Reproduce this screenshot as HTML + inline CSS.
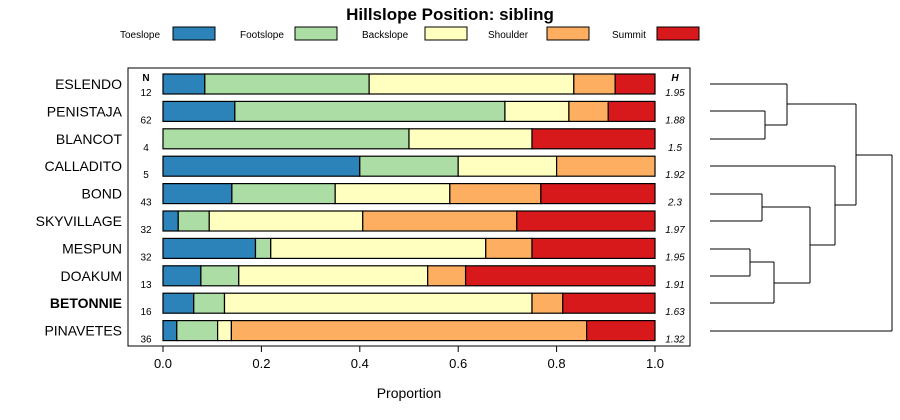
<!DOCTYPE html>
<html><head><meta charset="utf-8"><style>
body{margin:0;background:#fff;font-family:"Liberation Sans",sans-serif;}
svg{display:block}
</style></head><body>
<svg id="c" width="900" height="420" xmlns="http://www.w3.org/2000/svg"></svg>
<script>
const soils=["ESLENDO","PENISTAJA","BLANCOT","CALLADITO","BOND","SKYVILLAGE","MESPUN","DOAKUM","BETONNIE","PINAVETES"];
const nVals=[12,62,4,5,43,32,32,13,16,36];
const hVals=["1.95","1.88","1.5","1.92","2.3","1.97","1.95","1.91","1.63","1.32"];
const classes=["Toeslope","Footslope","Backslope","Shoulder","Summit"];
const colors=["#2b83ba","#abdda4","#ffffbf","#fdae61","#d7191c"];
const toeslope=[0.085,0.146,0,0.4,0.14,0.031,0.188,0.077,0.0625,0.028];
const footslope=[0.334,0.549,0.5,0.2,0.21,0.063,0.031,0.077,0.0625,0.083];
const backslope=[0.416,0.13,0.25,0.2,0.233,0.312,0.437,0.384,0.625,0.028];
const shoulder=[0.084,0.08,0,0.2,0.185,0.313,0.094,0.077,0.0625,0.722];
const summit=[0.081,0.095,0.25,0,0.232,0.281,0.25,0.385,0.1875,0.139];
const xTicks=[0,0.2,0.4,0.6,0.8,1.0];
const series=[toeslope,footslope,backslope,shoulder,summit];
const NS="http://www.w3.org/2000/svg",svg=document.getElementById("c");
function el(t,a,p){const e=document.createElementNS(NS,t);for(const k in a)e.setAttribute(k,a[k]);(p||svg).appendChild(e);return e;}
const x=v=>163+v*492, y=i=>84+i*27.4;
let t=el("text",{x:450,y:20,"text-anchor":"middle","font-size":17,"font-weight":"bold"});t.textContent="Hillslope Position: sibling";


const lx=[120,240,362,488,612];
const boxOff=[53,55,63,59,45];
classes.forEach((c,k)=>{
 const g=el("g",{});
 
 
 const tt=el("text",{x:lx[k],y:38,"font-size":10},g);tt.textContent=c;
 el("rect",{x:lx[k]+boxOff[k],y:27,width:42,height:13,fill:colors[k],stroke:"#000"},g);
});
const fr=el("rect",{x:128,y:68,width:562,height:278,fill:"none",stroke:"#000"});


let tn=el("text",{x:146,y:81,"text-anchor":"middle","font-size":10,"font-weight":"bold"});tn.textContent="N";
let th=el("text",{x:675,y:81,"text-anchor":"middle","font-size":10,"font-weight":"bold","font-style":"italic"});th.textContent="H";
soils.forEach((s,i)=>{
 const yc=y(i);
 const lab=el("text",{x:122,y:yc+5,"text-anchor":"end","font-size":14,"font-weight":s=="BETONNIE"?"bold":"normal"});lab.textContent=s;
 
 
 const n=el("text",{x:146,y:yc+12,"text-anchor":"middle","font-size":10});n.textContent=nVals[i];
 
 
 const h=el("text",{x:675,y:yc+12,"text-anchor":"middle","font-size":10,"font-style":"italic"});h.textContent=hVals[i];
 
 
 let cum=0;
 series.forEach((ser,k)=>{
  const v=ser[i];
  if(v>0){const r=el("rect",{x:x(cum),y:yc-10,width:x(cum+v)-x(cum),height:20,fill:colors[k],stroke:"#000","stroke-width":1.2});
  
  }
  cum+=v;
 });
});
xTicks.forEach(v=>{
 el("line",{x1:x(v),x2:x(v),y1:346,y2:352,stroke:"#000"});
 const tl=el("text",{x:x(v),y:368,"text-anchor":"middle","font-size":13});tl.textContent=v.toFixed(1);
 
 
});
const xt=el("text",{x:409,y:398,"text-anchor":"middle","font-size":14});xt.textContent="Proportion";


const dg=el("g",{fill:"none",stroke:"#000","stroke-width":1});


const segs=[[710,84,787,84],[710,111,765,111],[710,139,765,139],[765,111,765,139],[765,125,787,125],[787,84,787,125],[787,104,856,104],
[710,166,835,166],[710,194,762,194],[710,221,762,221],[762,194,762,221],[710,249,750,249],[710,276,750,276],[750,249,750,276],
[750,262,774,262],[710,303,774,303],[774,262,774,303],[762,207,810,207],[774,283,810,283],[810,207,810,283],[810,245,835,245],
[835,166,835,245],[835,205,856,205],[856,104,856,205],[856,155,892,155],[710,331,892,331],[892,155,892,331]];
segs.forEach(s=>el("line",{x1:s[0],y1:s[1],x2:s[2],y2:s[3]},dg));
</script>
</body></html>
